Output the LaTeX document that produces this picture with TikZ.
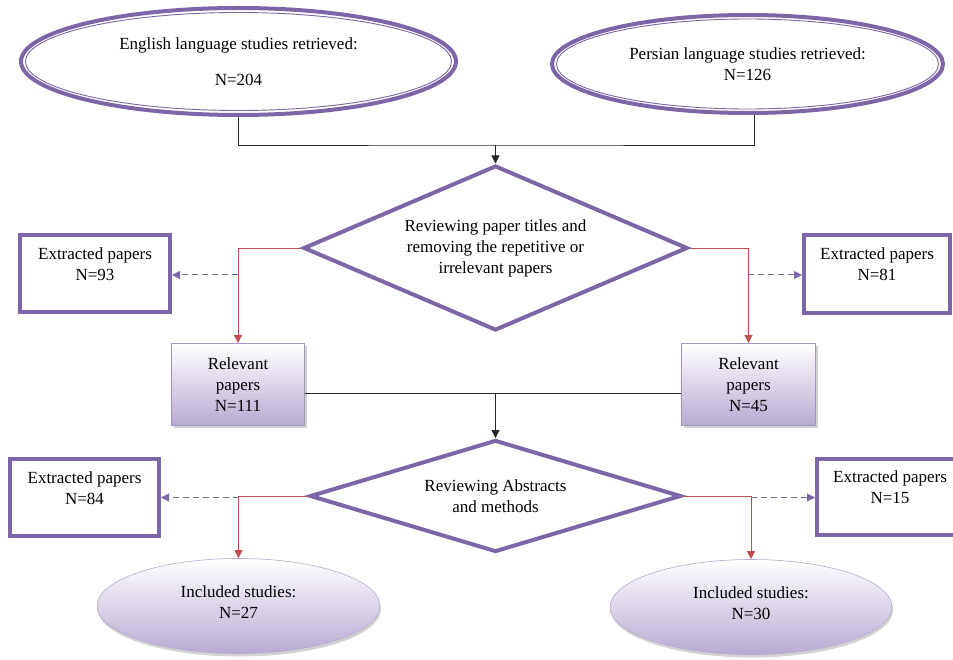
\documentclass[tikz,border=0pt]{standalone}
\usepackage{fontspec}
\setmainfont{Liberation Serif}
\usetikzlibrary{shapes.geometric,arrows.meta,shadows}
\definecolor{pur}{HTML}{7D66A8}
\definecolor{redl}{HTML}{C0504D}
\definecolor{lav}{RGB}{184,170,210}
\begin{document}
\begin{tikzpicture}[x=1pt,y=-1pt,
  font=\fontsize{17}{21}\selectfont,
  outerell/.style={ellipse, draw=pur, line width=4pt, align=center, inner sep=0pt},
  xbox/.style={rectangle, draw=pur, line width=4pt, align=center, inner sep=0pt},
  dia/.style={diamond, draw=pur, line width=4pt, align=center, inner sep=0pt},
  relbox/.style={rectangle, draw=pur!70, line width=0.8pt, top color=white, bottom color=lav,
     align=center, inner sep=0pt, drop shadow={shadow xshift=2pt, shadow yshift=-2pt, opacity=0.35}},
  incl/.style={ellipse, draw=pur!55, line width=0.6pt, top color=white, bottom color=lav,
     align=center, inner sep=0pt, drop shadow={shadow xshift=1pt, shadow yshift=-3pt, opacity=0.35}},
  redarr/.style={draw=redl, line width=0.8pt, -{Triangle[width=8pt,length=8pt]}},
  dasharr/.style={draw=pur, line width=1pt, dash pattern=on 6pt off 4pt, -{Triangle[width=8pt,length=8pt]}},
  blk/.style={draw=black!85, line width=0.8pt},
  blkarr/.style={blk, -{Triangle[width=8pt,length=8pt]}}
]
\useasboundingbox (0,0) rectangle (953,660);
\fill[white] (0,0) rectangle (953,660);

% top ellipses
\node[outerell, minimum width=435, minimum height=107] (e1) at (238.5,61.5)
  {English language studies retrieved:\\[15pt]N=204};
\draw[pur, line width=0.9pt] (e1.center) ellipse [x radius=213, y radius=49];
\node[outerell, minimum width=391, minimum height=98] (e2) at (747.5,64)
  {Persian language studies retrieved:\\N=126};
\draw[pur, line width=0.9pt] (e2.center) ellipse [x radius=191, y radius=45];

% first diamond
\node[dia, shape aspect=2.36, minimum width=384, minimum height=165] (d1) at (495.5,248)
  {Reviewing paper titles and\\removing the repetitive or\\irrelevant papers};

% extracted boxes (top)
\node[xbox, minimum width=150, minimum height=77] (x1) at (95,273.5)
  {Extracted papers\\N=93\\[-8pt]\strut};
\node[xbox, minimum width=146, minimum height=78] (x2) at (877,274)
  {Extracted papers\\N=81\\[-8pt]\strut};

% relevant boxes
\node[relbox, minimum width=133, minimum height=82] (r1) at (238,384.5)
  {Relevant\\papers\\N=111};
\node[relbox, minimum width=134, minimum height=82] (r2) at (748.5,384.5)
  {Relevant\\papers\\N=45};

% second diamond
\node[dia, shape aspect=3.3, minimum width=371, minimum height=112] (d2) at (495.5,496)
  {Reviewing Abstracts\\and methods};

% extracted boxes (bottom)
\node[xbox, minimum width=149, minimum height=77] (x3) at (84.5,497.5)
  {Extracted papers\\N=84\\[-8pt]\strut};
\node[xbox, minimum width=146, minimum height=76] (x4) at (890,497)
  {Extracted papers\\N=15\\[-8pt]\strut};

% included studies
\node[incl, minimum width=283, minimum height=95] (i1) at (238.5,606)
  {Included studies:\\N=27\\[-20pt]\strut};
\node[incl, minimum width=282, minimum height=95] (i2) at (751,607)
  {Included studies:\\N=30\\[-20pt]\strut};

% top connector
\coordinate (j1) at (495.5,145);
\draw[blk] (e1.south) |- (j1) -| ([xshift=7pt]e2.south);
\draw[blkarr] (j1) -- (d1.north);

% red connectors, first diamond
\draw[redarr] (d1.west) -| (r1.north);
\draw[redarr] (d1.east) -| (r2.north);
\coordinate (ds1) at (238,275);
\coordinate (ds2) at (748,275);
\draw[dasharr] (ds1) -- (ds1 -| x1.east);
\draw[dasharr] (ds2) -- (ds2 -| x2.west);

% middle connector
\coordinate (j2) at (495.5,393);
\draw[blk] ([yshift=-8.5pt]r1.east) -- ([yshift=-8.5pt]r2.west);
\draw[blkarr] (j2) -- (d2.north);

% red connectors, second diamond
\draw[redarr] (d2.west) -| (i1.north);
\draw[redarr] (d2.east) -| (i2.north);
\coordinate (ds3) at (238.5,497.5);
\coordinate (ds4) at (751,497.5);
\draw[dasharr] (ds3) -- (ds3 -| x3.east);
\draw[dasharr] (ds4) -- (ds4 -| x4.west);
\end{tikzpicture}
\end{document}
